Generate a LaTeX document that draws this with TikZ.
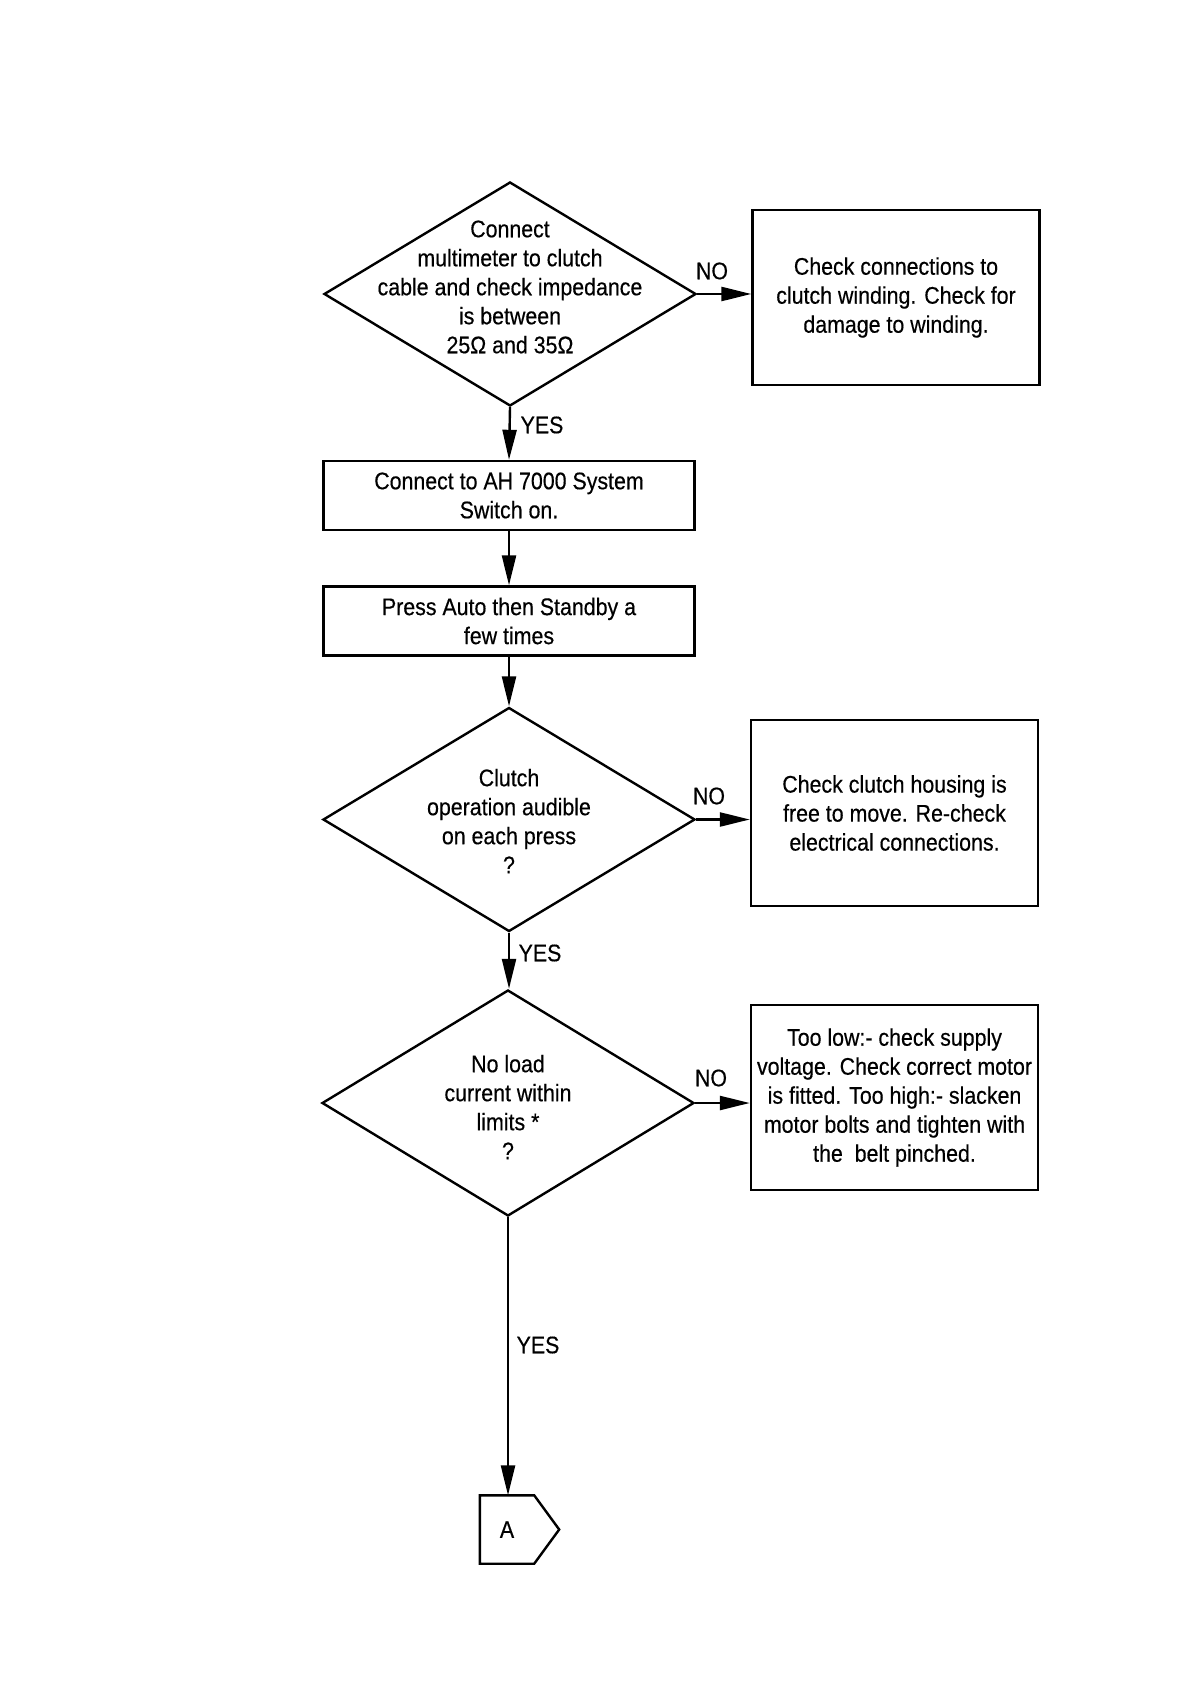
\documentclass[tikz,border=0pt]{standalone}
\usepackage{fontspec}
\setmainfont{Liberation Sans}[FakeStretch=0.89,FakeBold=0.4]
\usetikzlibrary{shapes.geometric,arrows.meta}
\begin{document}
\begin{tikzpicture}[x=0.5pt,y=-0.5pt,
  font=\fontsize{12}{14.5}\selectfont, line width=1.2pt,
  dia/.style={draw, diamond, minimum width=186pt, minimum height=112pt, inner sep=0pt},
  dtext/.style={align=center, inner sep=0pt},
  box/.style={draw, rectangle, align=center, minimum width=185.5pt, minimum height=34.5pt, inner sep=2pt},
  nobox/.style={draw, rectangle, align=center, minimum width=143.5pt, minimum height=88pt, inner sep=1pt},
  lbl/.style={inner sep=0pt},
  arr/.style={-{Triangle[length=15pt,width=7pt]}}
]
\useasboundingbox (0,0) rectangle (1190,1684);
\fill[white] (0,0) rectangle (1190,1684);

% decision 1
\node[dia] (d1) at (510,294) {};
\node[dtext] (d1t) at (510,287) {Connect\\multimeter to clutch\\cable and check impedance\\is between\\25Ω and 35Ω};
\node[nobox, minimum height=87.5pt] (n1) at (896,297.5) {Check connections to\\clutch winding. Check for\\damage to winding.};

% process boxes
\node[box] (b2) at (509,495.5) {Connect to AH 7000 System\\Switch on.};
\node[box] (b3) at (509,621) {Press Auto then Standby a\\few times};

% decision 2
\node[dia] (d2) at (509,819.5) {};
\node[dtext] (d2t) at (509,821) {Clutch\\operation audible\\on each press\\?};
\node[nobox, minimum height=93pt] (n2) at (894.5,813) {Check clutch housing is\\free to move. Re-check\\electrical connections.};

% decision 3
\node[dia, minimum height=113pt] (d3) at (508,1103) {};
\node[dtext] (d3t) at (508,1107) {No load\\current within\\limits *\\?};
\node[nobox, minimum height=92.5pt] (n3) at (894.5,1097.5) {Too low:- check supply\\voltage. Check correct motor\\is fitted. Too high:- slacken\\motor bolts and tighten with\\the~ belt pinched.};

% off-page connector A
\node[minimum width=26pt, minimum height=33pt, inner sep=0pt] (A) at (507,1529.5) {A};
\draw (A.north west) -- (A.north east) -- ([xshift=12.5pt]A.east) -- (A.south east) -- (A.south west) -- cycle;

% connectors
\draw[arr] (d1.east) -- (d1.east -| n1.west);
\draw[arr] (d1.south) -- (b2.north);
\draw[arr] (b2.south) -- (b3.north);
\draw[arr] (b3.south) -- (d2.north);
\draw[arr] (d2.east) -- (d2.east -| n2.west);
\draw[arr] (d2.south) -- (d2.south |- d3.north);
\draw[arr] (d3.east) -- (d3.east -| n3.west);
\draw[arr] (d3.south) -- (d3.south |- A.north);

% labels
\node[lbl] (no1) at (712,271) {NO};
\node[lbl] (yes1) at (542,425) {YES};
\node[lbl] (no2) at (709,796) {NO};
\node[lbl] (yes2) at (540,953) {YES};
\node[lbl] (no3) at (711,1078) {NO};
\node[lbl] (yes3) at (538,1345) {YES};
\end{tikzpicture}
\end{document}
